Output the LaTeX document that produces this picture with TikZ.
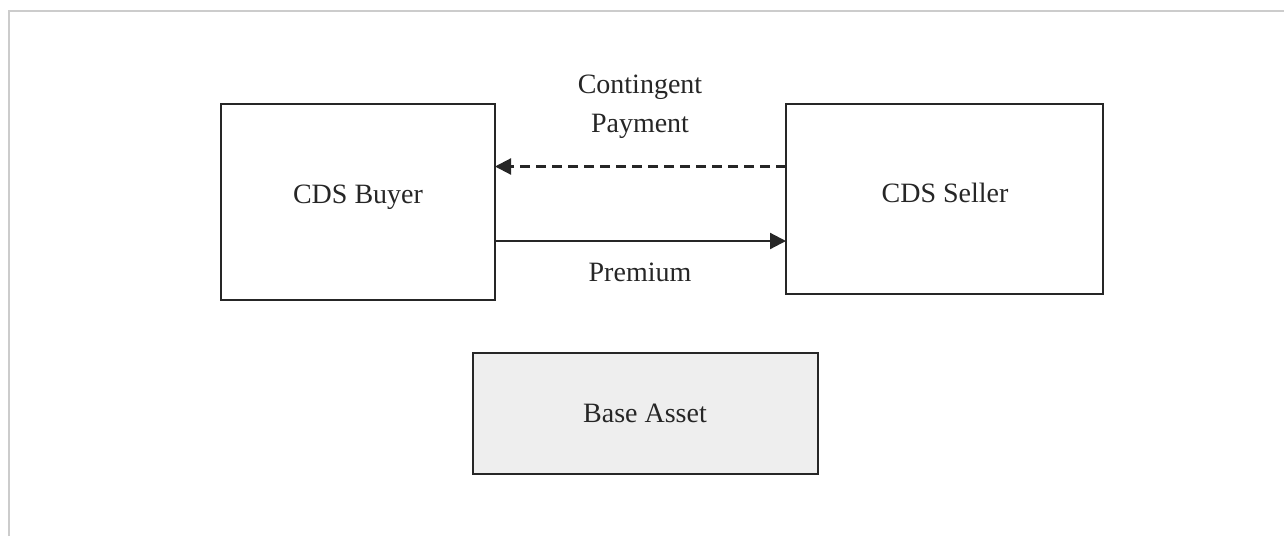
\documentclass[tikz,border=0pt]{standalone}
\usepackage{fontspec}
\setmainfont{Liberation Serif}
\usetikzlibrary{arrows.meta}
\definecolor{frame}{HTML}{CCCCCC}
\definecolor{ink}{HTML}{262626}
\definecolor{assetfill}{HTML}{EEEEEE}
\begin{document}
\begin{tikzpicture}[x=1pt,y=-1pt,
  box/.style={draw=ink,line width=2.4pt},
  lbl/.style={text=ink,font=\fontsize{28}{36}\selectfont,inner sep=0pt},
  conn/.style={draw=ink,line width=2.2pt,-{Triangle[length=16pt,width=16pt]}}]
\useasboundingbox (0,0) rectangle (1284,536);
\draw[frame,line width=2pt] (9,536) -- (9,11) -- (1284,11);
% boxes
\draw[box] (221,104) rectangle (495,300);
\draw[box] (786,104) rectangle (1103,294);
\draw[box,fill=assetfill] (473,353) rectangle (818,474);
\coordinate (buyerR) at (495,241);
\coordinate (sellerL) at (786,241);
\coordinate (buyerR2) at (495,166.5);
\coordinate (sellerL2) at (786,166.5);
\node[lbl] (buyer) at (358,197) {CDS Buyer};
\node[lbl] (seller) at (945,193) {CDS Seller};
\node[lbl] (asset) at (645,413) {Base Asset};
\node[lbl,align=center] (contingent) at (640,107) {Contingent\\[3pt]Payment};
\node[lbl] (premium) at (640,272) {Premium};
\draw[conn,dash pattern=on 10pt off 6pt] (sellerL2) -- (buyerR2);
\draw[conn] (buyerR) -- (sellerL);
\end{tikzpicture}
\end{document}
